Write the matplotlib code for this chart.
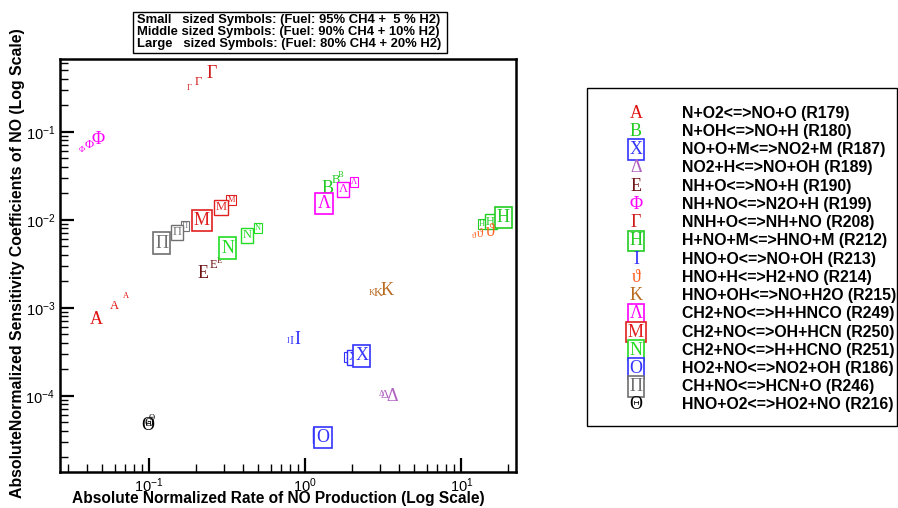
import matplotlib
matplotlib.use('Agg')
import matplotlib.pyplot as plt
from matplotlib.patches import Rectangle

plt.rcParams['font.family'] = ['Liberation Sans', 'DejaVu Sans']
plt.rcParams['mathtext.fontset'] = 'custom'
plt.rcParams['mathtext.rm'] = 'Liberation Sans'
plt.rcParams['mathtext.it'] = 'Liberation Sans:italic'
plt.rcParams['mathtext.bf'] = 'Liberation Sans:bold'

symbols = ['Α', 'Β', 'Χ', 'Δ', 'Ε', 'Φ', 'Γ', 'Η', 'Ι', 'ϑ', 'Κ', 'Λ', 'Μ', 'Ν', 'Ο', 'Π', 'Θ']
reactions = [
    'N+O2<=>NO+O (R179)', 'N+OH<=>NO+H (R180)', 'NO+O+M<=>NO2+M (R187)',
    'NO2+H<=>NO+OH (R189)', 'NH+O<=>NO+H (R190)', 'NH+NO<=>N2O+H (R199)',
    'NNH+O<=>NH+NO (R208)', 'H+NO+M<=>HNO+M (R212)', 'HNO+O<=>NO+OH (R213)',
    'HNO+H<=>H2+NO (R214)', 'HNO+OH<=>NO+H2O (R215)', 'CH2+NO<=>H+HNCO (R249)',
    'CH2+NO<=>OH+HCN (R250)', 'CH2+NO<=>H+HCNO (R251)', 'HO2+NO<=>NO2+OH (R186)',
    'CH+NO<=>HCN+O (R246)', 'HNO+O2<=>HO2+NO (R216)',
]
colors = ['#e01010', '#22cc22', '#3333ff', '#b060c0', '#701515', '#ff00ff', '#d01818',
          '#22cc22', '#3333ff', '#ff6020', '#b86a20', '#ff00ff', '#e02020', '#22dd22',
          '#3333ff', '#707070', '#000000']
boxed = [False, False, True, False, False, False, False, True, False, False, False,
         True, True, True, True, True, False]

# fuel: 95% CH4 + 5% H2 (small symbols)
rate_h5 = [0.0706, 1.67, 1.89, 3.06, 0.281, 0.0372, 0.18, 13.6, 0.771, 12.0, 2.68,
           2.06, 0.334, 0.498, 1.19, 0.169, 0.103]
sens_h5 = [1.36e-3, 0.032, 2.73e-4, 1.06e-4, 3.4e-3, 0.0615, 0.311, 8.87e-3, 4.18e-4,
           6.53e-3, 1.46e-3, 0.0268, 0.0168, 8.05e-3, 3.84e-5, 8.47e-3, 5.53e-5]
# fuel: 90% CH4 + 10% H2 (middle symbols)
rate_h10 = [0.0594, 1.57, 2.03, 3.24, 0.257, 0.041, 0.206, 15.4, 0.819, 13.2, 2.91,
            1.75, 0.287, 0.423, 1.23, 0.151, 0.1]
sens_h10 = [1.05e-3, 0.0282, 2.73e-4, 1.02e-4, 3.05e-3, 0.0706, 0.37, 9.5e-3, 4.18e-4,
            6.89e-3, 1.48e-3, 0.0221, 0.0138, 6.7e-3, 3.57e-5, 7.24e-3, 4.93e-5]
# fuel: 80% CH4 + 20% H2 (large symbols)
rate_h20 = [0.0455, 1.38, 2.30, 3.58, 0.22, 0.0471, 0.251, 18.6, 0.894, 15.4, 3.33,
            1.32, 0.217, 0.319, 1.30, 0.12, 0.0977]
sens_h20 = [7.4e-4, 0.0227, 2.83e-4, 9.75e-5, 2.42e-3, 0.0805, 0.461, 0.0106, 4.3e-4,
            7.31e-3, 1.56e-3, 0.0153, 9.75e-3, 4.77e-3, 3.33e-5, 5.43e-3, 4.64e-5]

W, H = 898, 508
fig = plt.figure(figsize=(W / 100, H / 100), dpi=100)


def fx(px):
    return px / W


def fy(py):
    return 1 - py / H


ax = fig.add_axes([fx(60), fy(472), fx(516) - fx(60), fy(59) - fy(472)])
ax.set_xscale('log')
ax.set_yscale('log')
ax.set_xlim(0.0268, 22.4)
ax.set_ylim(1.36e-5, 0.67)

serif = ['Liberation Serif', 'DejaVu Serif']


def marker(x, y, i, size, lw):
    kw = dict(ha='center', va='center', color=colors[i], fontsize=size, family=serif)
    if boxed[i]:
        kw['bbox'] = dict(boxstyle='square,pad=0.12', fc='white', ec=colors[i], lw=lw)
    ax.text(x, y, symbols[i], **kw)


for i in range(len(symbols)):
    marker(rate_h5[i], sens_h5[i], i, 6, 0.8)
    marker(rate_h10[i], sens_h10[i], i, 9, 1.0)
    marker(rate_h20[i], sens_h20[i], i, 13, 1.2)

for side in ['left', 'bottom', 'top', 'right']:
    ax.spines[side].set_linewidth(1.8)
ax.tick_params(which='major', direction='in', length=10, width=1.6, labelsize=10.5,
               top=False, right=False)
ax.tick_params(which='minor', direction='in', length=6, width=1.0,
               top=False, right=False)
ax.set_xticks([0.1, 1, 10])
ax.set_yticks([1e-4, 1e-3, 1e-2, 1e-1])

fig.text(fx(278), fy(499), 'Absolute Normalized Rate of NO Production (Log Scale)',
         ha='center', va='center', fontsize=11.2, fontweight='bold')
fig.text(fx(18), fy(263), 'AbsoluteNormalized Sensitivity Coefficients of NO (Log Scale)',
         ha='center', va='center', rotation=90, fontsize=11.4, fontweight='bold')

# fuel-size key above the plot
fig.text(fx(137), fy(32),
         'Small   sized Symbols: (Fuel: 95% CH4 +  5 % H2)\n'
         'Middle sized Symbols: (Fuel: 90% CH4 + 10% H2)\n'
         'Large   sized Symbols: (Fuel: 80% CH4 + 20% H2)',
         ha='left', va='center', fontsize=9.4, fontweight='bold', linespacing=1.05)
fig.add_artist(Rectangle((fx(133), fy(53)), fx(447) - fx(133), fy(12) - fy(53),
                         transform=fig.transFigure, fill=False, ec='black', lw=1.0))

# reaction legend
fig.add_artist(Rectangle((fx(587), fy(426)), fx(897) - fx(587), fy(88) - fy(426),
                         transform=fig.transFigure, fill=False, ec='black', lw=1.0))
for i, (s, r) in enumerate(zip(symbols, reactions)):
    yy = fy(113.3 + i * 18.23)
    kw = dict(ha='center', va='center', color=colors[i], fontsize=13, family=serif)
    if boxed[i]:
        kw['bbox'] = dict(boxstyle='square,pad=0.1', fc='white', ec=colors[i], lw=1.2)
    fig.text(fx(636), yy, s, **kw)
    fig.text(fx(682), yy, r, ha='left', va='center', fontsize=11.4, fontweight='bold')

fig.savefig('out.png', dpi=100)
